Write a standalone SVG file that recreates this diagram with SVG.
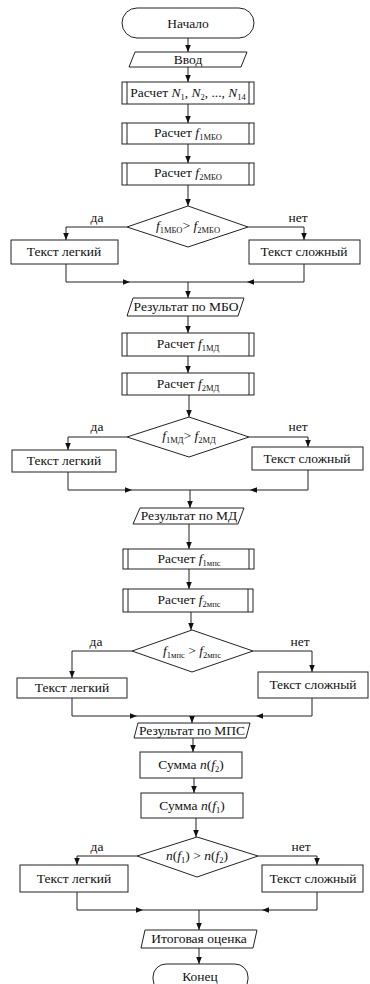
<svg xmlns="http://www.w3.org/2000/svg" width="370" height="984" viewBox="0 0 370 984">
<defs>
<marker id="a" viewBox="0 0 10 10" refX="10" refY="5" markerWidth="7" markerHeight="7" orient="auto" markerUnits="userSpaceOnUse"><path d="M0,1 L10,5 L0,9 z" fill="#111"/></marker>
</defs>
<style>
.s{fill:#fff;stroke:#222;stroke-width:1}
.c{fill:none;stroke:#222;stroke-width:1}
text{font-family:"Liberation Serif","DejaVu Serif",serif;font-size:13.5px;fill:#111}
.m{text-anchor:middle}
.i{font-style:italic}
.b{font-size:8.5px}
</style>
<rect width="370" height="984" fill="#fff"/>
<g id="connectors">
<path class="c" d="M188 38 V52" marker-end="url(#a)"/>
<path class="c" d="M188 67 V82" marker-end="url(#a)"/>
<path class="c" d="M188 104 V123" marker-end="url(#a)"/>
<path class="c" d="M188 144 V163" marker-end="url(#a)"/>
<path class="c" d="M188 185 V206" marker-end="url(#a)"/>
<path class="c" d="M127 227 H66 V240" marker-end="url(#a)"/>
<path class="c" d="M248 227 H304 V240" marker-end="url(#a)"/>
<path class="c" d="M66 264 V282 H130" marker-end="url(#a)"/>
<path class="c" d="M130 282 H247"/>
<path class="c" d="M304 264 V282 H247" marker-end="url(#a)"/>
<path class="c" d="M188 282 V298" marker-end="url(#a)"/>
<path class="c" d="M188 316 V333" marker-end="url(#a)"/>
<path class="c" d="M188 356 V373" marker-end="url(#a)"/>
<path class="c" d="M189 395 V417" marker-end="url(#a)"/>
<path class="c" d="M127 437 H68 V450" marker-end="url(#a)"/>
<path class="c" d="M249 437 H308 V447" marker-end="url(#a)"/>
<path class="c" d="M68 472 V490 H132" marker-end="url(#a)"/>
<path class="c" d="M132 490 H250"/>
<path class="c" d="M308 470 V490 H250" marker-end="url(#a)"/>
<path class="c" d="M190 490 V508" marker-end="url(#a)"/>
<path class="c" d="M189 524 V549" marker-end="url(#a)"/>
<path class="c" d="M189 569 V589" marker-end="url(#a)"/>
<path class="c" d="M191 612 V630" marker-end="url(#a)"/>
<path class="c" d="M132 651 H72 V678" marker-end="url(#a)"/>
<path class="c" d="M253 651 H312 V672" marker-end="url(#a)"/>
<path class="c" d="M72 698 V716 H137" marker-end="url(#a)"/>
<path class="c" d="M137 716 H256"/>
<path class="c" d="M312 698 V716 H256" marker-end="url(#a)"/>
<path class="c" d="M192 716 V723" marker-end="url(#a)"/>
<path class="c" d="M193 738 V752" marker-end="url(#a)"/>
<path class="c" d="M194 778 V793" marker-end="url(#a)"/>
<path class="c" d="M196 818 V837" marker-end="url(#a)"/>
<path class="c" d="M137 856 H77 V865" marker-end="url(#a)"/>
<path class="c" d="M258 856 H317 V865" marker-end="url(#a)"/>
<path class="c" d="M77 892 V910 H143" marker-end="url(#a)"/>
<path class="c" d="M143 910 H262"/>
<path class="c" d="M317 892 V910 H262" marker-end="url(#a)"/>
<path class="c" d="M199 910 V930" marker-end="url(#a)"/>
<path class="c" d="M199 948 V964" marker-end="url(#a)"/>
</g>
<g id="start"><rect class="s" x="122" y="8" width="132" height="30" rx="15"/><text class="m" x="188" y="28">Начало</text></g>
<g id="input"><polygon class="s" points="135,52 247,52 241,67 129,67"/><text class="m" x="188" y="64">Ввод</text></g>
<g id="calcN"><rect class="s" x="122" y="82" width="132" height="22"/><path class="c" d="M127 82 V104 M249 82 V104"/><text class="m" x="188" y="97">Расчет <tspan class="i">N</tspan><tspan class="b" dy="3">1</tspan><tspan dy="-3">, </tspan><tspan class="i">N</tspan><tspan class="b" dy="3">2</tspan><tspan dy="-3">, ..., </tspan><tspan class="i">N</tspan><tspan class="b" dy="3">14</tspan></text></g>
<g id="calcf1mbo"><rect class="s" x="122" y="123" width="132" height="21"/><path class="c" d="M127 123 V144 M249 123 V144"/><text class="m" x="188" y="137">Расчет <tspan class="i">f</tspan><tspan class="b" dy="3">1МБО</tspan></text></g>
<g id="calcf2mbo"><rect class="s" x="122" y="163" width="132" height="22"/><path class="c" d="M127 163 V185 M249 163 V185"/><text class="m" x="188" y="177">Расчет <tspan class="i">f</tspan><tspan class="b" dy="3">2МБО</tspan></text></g>
<g id="dec1"><polygon class="s" points="188,206 248,227 188,247 127,227"/><text class="m" x="188" y="230"><tspan class="i">f</tspan><tspan class="b" dy="3">1МБО</tspan><tspan dy="-3">&gt; </tspan><tspan class="i">f</tspan><tspan class="b" dy="3">2МБО</tspan></text></g>
<g id="yes1"><text class="m" x="97" y="222">да</text></g>
<g id="no1"><text class="m" x="298" y="222">нет</text></g>
<g id="easy1"><rect class="s" x="11" y="240" width="107" height="24"/><text class="m" x="64" y="256">Текст легкий</text></g>
<g id="hard1"><rect class="s" x="249" y="240" width="111" height="24"/><text class="m" x="304" y="256">Текст сложный</text></g>
<g id="res1"><polygon class="s" points="133,298 244,298 238,316 127,316"/><text class="m" x="186" y="311">Результат по МБО</text></g>
<g id="calcf1md"><rect class="s" x="122" y="333" width="132" height="23"/><path class="c" d="M127 333 V356 M249 333 V356"/><text class="m" x="188" y="348">Расчет <tspan class="i">f</tspan><tspan class="b" dy="3">1МД</tspan></text></g>
<g id="calcf2md"><rect class="s" x="122" y="373" width="132" height="22"/><path class="c" d="M127 373 V395 M249 373 V395"/><text class="m" x="188" y="388">Расчет <tspan class="i">f</tspan><tspan class="b" dy="3">2МД</tspan></text></g>
<g id="dec2"><polygon class="s" points="189,417 249,437 189,457 127,437"/><text class="m" x="189" y="440"><tspan class="i">f</tspan><tspan class="b" dy="3">1МД</tspan><tspan dy="-3">&gt; </tspan><tspan class="i">f</tspan><tspan class="b" dy="3">2МД</tspan></text></g>
<g id="yes2"><text class="m" x="97" y="431">да</text></g>
<g id="no2"><text class="m" x="298" y="431">нет</text></g>
<g id="easy2"><rect class="s" x="12" y="450" width="104" height="22"/><text class="m" x="64" y="465">Текст легкий</text></g>
<g id="hard2"><rect class="s" x="252" y="447" width="111" height="23"/><text class="m" x="307" y="463">Текст сложный</text></g>
<g id="res2"><polygon class="s" points="140,508 244,508 238,524 133,524"/><text class="m" x="189" y="520">Результат по МД</text></g>
<g id="calcf1mps"><rect class="s" x="123" y="549" width="131" height="20"/><path class="c" d="M128 549 V569 M249 549 V569"/><text class="m" x="189" y="563">Расчет <tspan class="i">f</tspan><tspan class="b" dy="3">1мпс</tspan></text></g>
<g id="calcf2mps"><rect class="s" x="123" y="589" width="130" height="23"/><path class="c" d="M128 589 V612 M248 589 V612"/><text class="m" x="189" y="604">Расчет <tspan class="i">f</tspan><tspan class="b" dy="3">2мпс</tspan></text></g>
<g id="dec3"><polygon class="s" points="192,630 253,651 192,672 132,651"/><text class="m" x="192" y="655"><tspan class="i">f</tspan><tspan class="b" dy="3">1мпс</tspan><tspan dy="-3"> &gt; </tspan><tspan class="i">f</tspan><tspan class="b" dy="3">2мпс</tspan></text></g>
<g id="yes3"><text class="m" x="96" y="646">да</text></g>
<g id="no3"><text class="m" x="300" y="646">нет</text></g>
<g id="easy3"><rect class="s" x="17" y="678" width="110" height="20"/><text class="m" x="72" y="692">Текст легкий</text></g>
<g id="hard3"><rect class="s" x="258" y="672" width="110" height="26"/><text class="m" x="313" y="689">Текст сложный</text></g>
<g id="res3"><polygon class="s" points="138,723 250,723 246,738 134,738"/><text class="m" x="192" y="735">Результат по МПС</text></g>
<g id="sumf2"><rect class="s" x="140" y="752" width="102" height="26"/><text class="m" x="191" y="769">Сумма <tspan class="i">n</tspan>(<tspan class="i">f</tspan><tspan class="b" dy="3">2</tspan><tspan dy="-3">)</tspan></text></g>
<g id="sumf1"><rect class="s" x="141" y="793" width="102" height="25"/><text class="m" x="192" y="810">Сумма <tspan class="i">n</tspan>(<tspan class="i">f</tspan><tspan class="b" dy="3">1</tspan><tspan dy="-3">)</tspan></text></g>
<g id="dec4"><polygon class="s" points="197,837 258,856 197,877 137,856"/><text class="m" x="197" y="860"><tspan class="i">n</tspan>(<tspan class="i">f</tspan><tspan class="b" dy="3">1</tspan><tspan dy="-3">) &gt; </tspan><tspan class="i">n</tspan>(<tspan class="i">f</tspan><tspan class="b" dy="3">2</tspan><tspan dy="-3">)</tspan></text></g>
<g id="yes4"><text class="m" x="97" y="851">да</text></g>
<g id="no4"><text class="m" x="301" y="851">нет</text></g>
<g id="easy4"><rect class="s" x="20" y="865" width="108" height="27"/><text class="m" x="74" y="883">Текст легкий</text></g>
<g id="hard4"><rect class="s" x="262" y="865" width="101" height="27"/><text class="m" x="313" y="883">Текст сложный</text></g>
<g id="final"><polygon class="s" points="145,930 257,930 253,948 141,948"/><text class="m" x="199" y="943">Итоговая оценка</text></g>
<g id="end"><rect class="s" x="153" y="964" width="95" height="28" rx="13"/><text class="m" x="200" y="981">Конец</text></g>
</svg>
